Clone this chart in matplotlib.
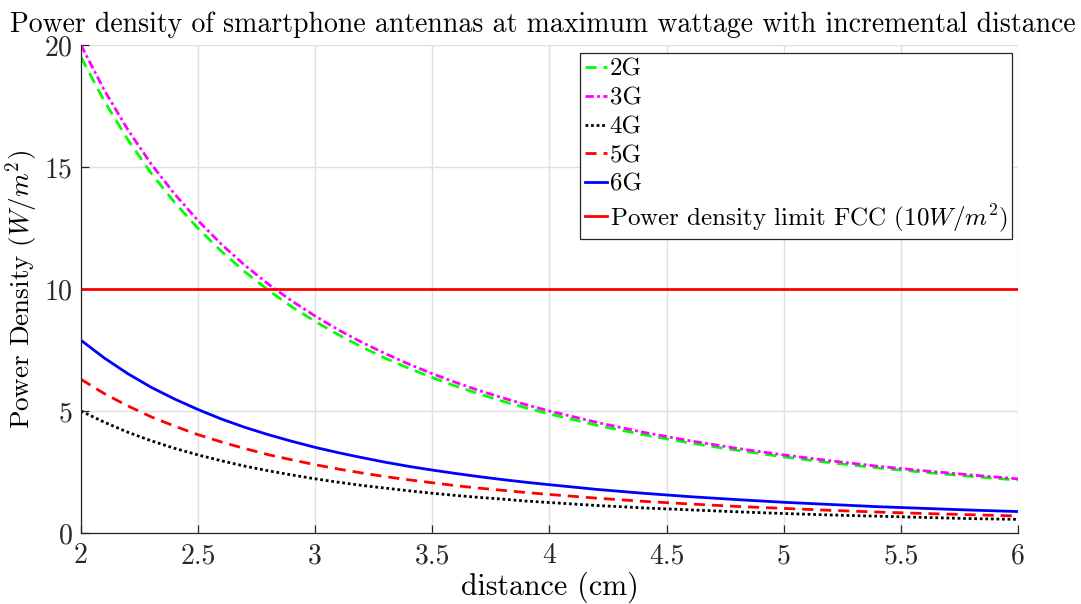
import matplotlib
matplotlib.use("Agg")
import matplotlib.pyplot as plt

distance = [2.0, 2.1, 2.2, 2.3, 2.4, 2.5, 2.6, 2.7, 2.8, 2.9, 3.0,
            3.1, 3.2, 3.3, 3.4, 3.5, 3.6, 3.7, 3.8, 3.9, 4.0,
            4.2, 4.4, 4.6, 4.8, 5.0, 5.2, 5.4, 5.6, 5.8, 6.0]
pd_2g = [19.50, 17.69, 16.12, 14.74, 13.54, 12.48, 11.54, 10.70, 9.95, 9.27, 8.67,
         8.12, 7.62, 7.16, 6.75, 6.37, 6.02, 5.70, 5.40, 5.13, 4.88,
         4.42, 4.03, 3.69, 3.39, 3.12, 2.88, 2.67, 2.49, 2.32, 2.17]
pd_3g = [20.00, 18.14, 16.53, 15.12, 13.89, 12.80, 11.83, 10.97, 10.20, 9.51, 8.89,
         8.32, 7.81, 7.35, 6.92, 6.53, 6.17, 5.84, 5.54, 5.26, 5.00,
         4.54, 4.13, 3.78, 3.47, 3.20, 2.96, 2.74, 2.55, 2.38, 2.22]
pd_4g = [5.00, 4.54, 4.13, 3.78, 3.47, 3.20, 2.96, 2.74, 2.55, 2.38, 2.22,
         2.08, 1.95, 1.84, 1.73, 1.63, 1.54, 1.46, 1.39, 1.31, 1.25,
         1.13, 1.03, 0.95, 0.87, 0.80, 0.74, 0.69, 0.64, 0.59, 0.56]
pd_5g = [6.30, 5.71, 5.21, 4.76, 4.38, 4.03, 3.73, 3.46, 3.21, 3.00, 2.80,
         2.62, 2.46, 2.31, 2.18, 2.06, 1.94, 1.84, 1.75, 1.66, 1.58,
         1.43, 1.30, 1.19, 1.09, 1.01, 0.93, 0.86, 0.80, 0.75, 0.70]
pd_6g = [7.90, 7.17, 6.53, 5.97, 5.49, 5.06, 4.67, 4.33, 4.03, 3.76, 3.51,
         3.29, 3.09, 2.90, 2.73, 2.58, 2.44, 2.31, 2.19, 2.08, 1.98,
         1.79, 1.63, 1.49, 1.37, 1.26, 1.17, 1.08, 1.01, 0.94, 0.88]
fcc_limit = 10
labels = ["2G", "3G", "4G", "5G", "6G", r"Power density limit FCC ($10W/m^2$)"]
xticks = [2, 2.5, 3, 3.5, 4, 4.5, 5, 5.5, 6]
yticks = [0, 5, 10, 15, 20]

plt.rcParams["font.family"] = ["cmr10", "DejaVu Serif"]
plt.rcParams["mathtext.fontset"] = "cm"
plt.rcParams["axes.formatter.use_mathtext"] = True

fig = plt.figure(figsize=(10.81, 6.04), dpi=100)
ax = fig.add_axes([0.0749, 0.1175, 0.8668, 0.808])

lw = 2.0
ax.plot(distance, pd_2g, color=(0, 1, 0), ls=(0, (4, 2.5)), lw=lw, label=labels[0])
ax.plot(distance, pd_3g, color=(1, 0, 1), ls=(0, (3, 1.2, 1, 1.2)), lw=lw, label=labels[1])
ax.plot(distance, pd_4g, color="black", ls=(0, (1, 1)), lw=lw, label=labels[2])
ax.plot(distance, pd_5g, color=(1, 0, 0), ls=(0, (4, 2.5)), lw=lw, label=labels[3])
ax.plot(distance, pd_6g, color=(0, 0, 1), ls="-", lw=lw, label=labels[4])
ax.plot([distance[0], distance[-1]], [fcc_limit, fcc_limit], color=(1, 0, 0), ls="-", lw=lw, label=labels[5])

ax.set_xlim(2, 6)
ax.set_ylim(0, 20)
ax.set_xticks(xticks)
ax.set_xticklabels([f"{t:g}" for t in xticks])
ax.set_yticks(yticks)
ax.grid(True, color=(0.88, 0.88, 0.88), lw=1.0)
ax.set_axisbelow(True)
for s in ["top", "right"]:
    ax.spines[s].set_visible(False)
for s in ["left", "bottom"]:
    ax.spines[s].set_color((0.15, 0.15, 0.15))
    ax.spines[s].set_linewidth(0.9)
ax.tick_params(direction="in", length=6, width=0.9, colors=(0.15, 0.15, 0.15),
               labelsize=20)
ax.tick_params(axis="x", pad=7)
ax.tick_params(axis="y", pad=6)

ax.set_xlabel("distance (cm)", fontsize=21.5, labelpad=2)
ax.set_ylabel(r"Power Density ($W/m^2$)", fontsize=19.5, labelpad=0)
ax.yaxis.set_label_coords(-0.044, 0.5)
ax.set_title("Power density of smartphone antennas at maximum wattage with incremental distance",
             fontsize=20, pad=9, x=0.4925)

leg = ax.legend(loc="upper right", bbox_to_anchor=(0.994, 0.983), fontsize=18,
                frameon=True, fancybox=False, shadow=False, framealpha=1,
                edgecolor=(0.15, 0.15, 0.15), handlelength=0.9, handletextpad=0.1,
                borderpad=0.2, labelspacing=0.25, borderaxespad=0)
leg.get_frame().set_linewidth(0.9)

fig.savefig("out.png", dpi=100)
